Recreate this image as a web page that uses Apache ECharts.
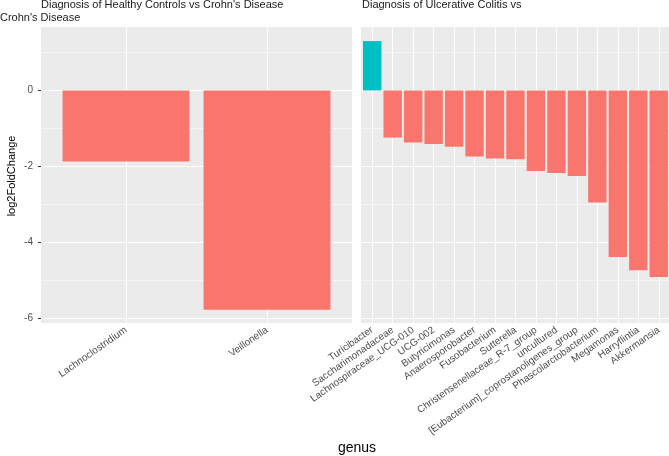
<!DOCTYPE html>
<html>
<head>
<meta charset="utf-8">
<script src="https://cdn.jsdelivr.net/npm/echarts@6/dist/echarts.min.js"></script>
<style>
  html, body { margin: 0; padding: 0; background: #ffffff; }
  #chart { width: 669px; height: 456px; }
</style>
</head>
<body>
<div id="chart"></div>
<script>
// facet titles
const titleLeft = 'Diagnosis of Healthy Controls vs Crohn\'s Disease'
const titleLeftWrap = 'Crohn\'s Disease'
const titleRight = 'Diagnosis of Ulcerative Colitis vs'

// panel 1: Healthy Controls vs Crohn's Disease
const leftGenus = ['Lachnoclostridium', 'Veillonella']
const leftLfc = [-1.87, -5.77]

// panel 2: Ulcerative Colitis vs ...
const rightGenus = [
  'Turicibacter', 'Saccharimonadaceae', 'Lachnospiraceae_UCG-010', 'UCG-002',
  'Butyricimonas', 'Anaerosporobacter', 'Fusobacterium', 'Sutterella',
  'Christensenellaceae_R-7_group', 'uncultured', '[Eubacterium]_coprostanoligenes_group',
  'Phascolarctobacterium', 'Megamonas', 'Harryflintia', 'Akkermansia'
]
const rightLfc = [1.30, -1.24, -1.37, -1.41, -1.48, -1.74, -1.79, -1.81, -2.12, -2.17, -2.25, -2.95, -4.38, -4.73, -4.91]

// shared y scale
const yTicks = [-6, -4, -2, 0]
const yMin = -6.12
const yMax = 1.67

const FONT = '"Liberation Sans", Arial, sans-serif'
const POS = '#00BFC4'
const NEG = '#F8766D'
const TOP = 27
const HEIGHT = 296

const chart = echarts.init(document.getElementById('chart'))

// ggplot pads a discrete axis by 0.6 of a band on each side, so every panel is
// a grey background grid (0,2) with a narrower bar grid (1,3) laid on top
function panelGrid (left, width) {
  return { left: left, top: TOP, width: width, height: HEIGHT, show: true, backgroundColor: '#EBEBEB', borderWidth: 0 }
}
function barGrid (left, width) {
  return { left: left, top: TOP, width: width, height: HEIGHT, show: false }
}

function hiddenX (gridIndex) {
  return { type: 'value', gridIndex: gridIndex, show: false, splitLine: { show: false } }
}

function xAxisFor (gridIndex, data) {
  return {
    type: 'category',
    gridIndex: gridIndex,
    data: data,
    axisLine: { show: false },
    axisTick: { alignWithLabel: true, length: 3, lineStyle: { color: '#333333' } },
    axisLabel: { interval: 0, rotate: 35, fontSize: 10, color: '#4D4D4D', margin: 6, fontFamily: FONT },
    splitLine: { show: false }
  }
}

function panelY (gridIndex, withLabels) {
  return {
    type: 'value',
    gridIndex: gridIndex,
    min: yMin,
    max: yMax,
    axisLine: { show: false },
    axisTick: { show: withLabels, length: 3, customValues: yTicks, lineStyle: { color: '#333333' } },
    axisLabel: {
      show: withLabels,
      customValues: yTicks,
      fontSize: 10,
      color: '#4D4D4D',
      margin: 8,
      fontFamily: FONT,
      formatter: function (v) { return Number.isInteger(v) ? String(v) : '' }
    },
    splitLine: { show: true, lineStyle: { color: '#ffffff', width: 1.1 } },
    minorTick: { show: false, splitNumber: 2 },
    minorSplitLine: { show: true, lineStyle: { color: '#ffffff', width: 0.55 } }
  }
}

function barY (gridIndex) {
  return { type: 'value', gridIndex: gridIndex, min: yMin, max: yMax, show: false, splitLine: { show: false } }
}

function barSeries (idx, genus, values) {
  return {
    type: 'bar',
    xAxisIndex: idx,
    yAxisIndex: idx,
    barWidth: '90%',
    data: values.map(function (v) {
      return { value: v, itemStyle: { color: v > 0 ? POS : NEG } }
    }),
    // vertical grid lines at category centres, drawn under the bars
    markLine: {
      silent: true,
      z: 1,
      symbol: 'none',
      label: { show: false },
      lineStyle: { color: '#ffffff', width: 1.1, type: 'solid' },
      data: genus.map(function (g) { return { xAxis: g } })
    }
  }
}

const option = {
  animation: false,
  textStyle: { fontFamily: FONT },
  grid: [
    panelGrid(41, 311), barGrid(55.5, 282),
    panelGrid(361, 312), barGrid(362, 308)
  ],
  xAxis: [hiddenX(0), xAxisFor(1, leftGenus), hiddenX(2), xAxisFor(3, rightGenus)],
  yAxis: [panelY(0, true), barY(1), panelY(2, false), barY(3)],
  series: [barSeries(1, leftGenus, leftLfc), barSeries(3, rightGenus, rightLfc)],
  graphic: [
    { type: 'text', left: 41, top: -1, style: { text: titleLeft, fontSize: 11, fill: '#1A1A1A', fontFamily: FONT } },
    { type: 'text', left: 0, top: 12, style: { text: titleLeftWrap, fontSize: 11, fill: '#1A1A1A', fontFamily: FONT } },
    { type: 'text', left: 362, top: -1, style: { text: titleRight, fontSize: 11, fill: '#1A1A1A', fontFamily: FONT } },
    { type: 'text', x: 357, y: 448, style: { text: 'genus', fontSize: 14, fill: '#000000', align: 'center', verticalAlign: 'middle', fontFamily: FONT } },
    { type: 'text', x: 12, y: 176, rotation: Math.PI / 2, style: { text: 'log2FoldChange', fontSize: 11, fill: '#000000', align: 'center', verticalAlign: 'middle', fontFamily: FONT } }
  ]
}

chart.setOption(option)
</script>
</body>
</html>
